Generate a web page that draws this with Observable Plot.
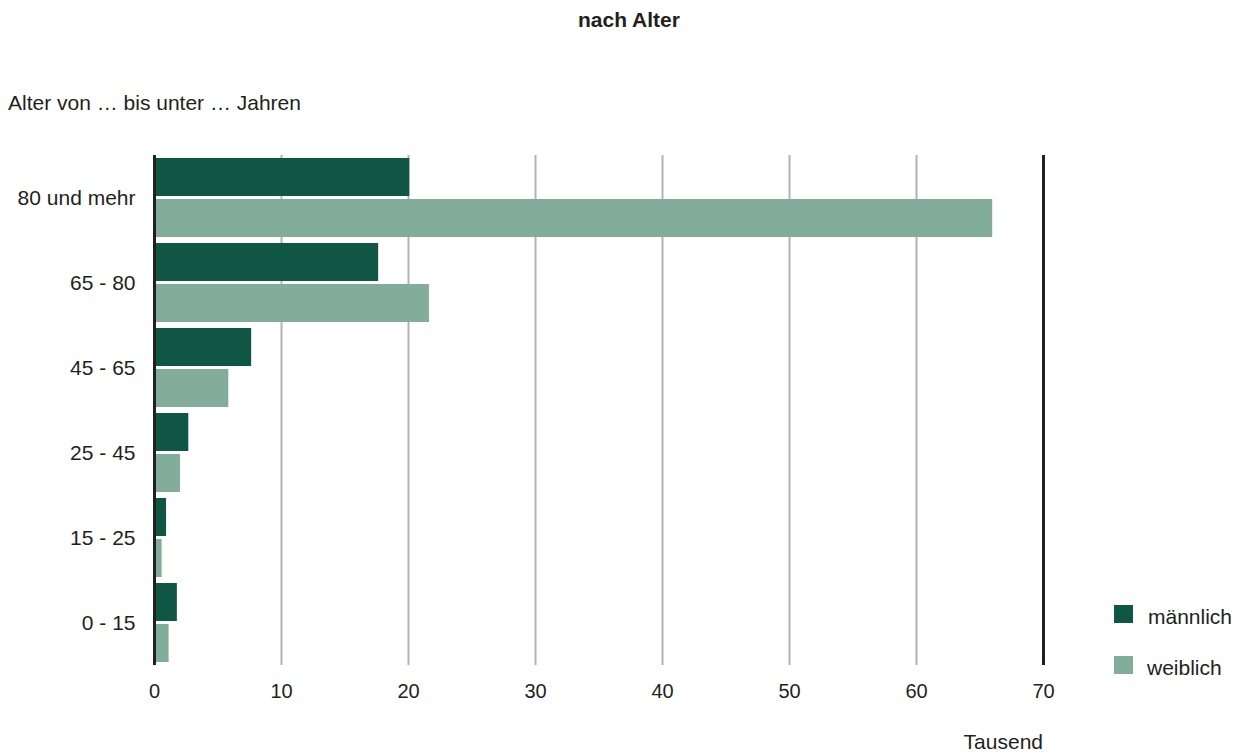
<!DOCTYPE html>
<html lang="de">
<head>
<meta charset="utf-8">
<script src="https://cdn.jsdelivr.net/npm/d3@7"></script>
<script src="https://cdn.jsdelivr.net/npm/@observablehq/plot@0.6"></script>
<style>
  html, body { margin: 0; padding: 0; background: #fff; }
  #wrap { position: relative; width: 1244px; height: 753px; font-family: "Liberation Sans", Arial, sans-serif; color: #231f20; }
  #wrap svg { position: absolute; left: 0; top: 0; }
  .t { position: absolute; white-space: nowrap; transform: translateY(-50%); line-height: 1; font-size: 21px; }
  .title { left: 0; width: 1258px; text-align: center; font-weight: bold; top: 19px; }
  .sw { position: absolute; width: 19px; height: 18px; }
</style>
</head>
<body>
<div id="wrap">
  <div class="t title">nach Alter</div>
  <div class="t" style="left:8px; top:102px;">Alter von … bis unter … Jahren</div>
  <div class="t" style="right:201px; top:741px;">Tausend</div>
  <div class="sw" id="sw0" style="left:1114px; top:605px;"></div>
  <div class="t" style="left:1148px; top:616px;" id="lg0"></div>
  <div class="sw" id="sw1" style="left:1114px; top:656px;"></div>
  <div class="t" style="left:1147px; top:667px;" id="lg1"></div>
</div>
<script>
// Altersgruppen (von oben nach unten) und Werte in Tausend
const ageGroups = ["80 und mehr", "65 - 80", "45 - 65", "25 - 45", "15 - 25", "0 - 15"];
const maleValues = [20.1, 17.65, 7.65, 2.7, 0.95, 1.8];
const femaleValues = [66.0, 21.65, 5.85, 2.05, 0.6, 1.15];
const sexes = ["männlich", "weiblich"];
const xTicks = [0, 10, 20, 30, 40, 50, 60, 70];
const colors = ["#0f5645", "#82ad9b"];

const rows = ageGroups.flatMap((age, i) => [
  {age, sex: sexes[0], value: maleValues[i]},
  {age, sex: sexes[1], value: femaleValues[i]}
]);

const chart = Plot.plot({
  width: 1244,
  height: 753,
  marginLeft: 154,
  marginRight: 201,
  marginTop: 155,
  marginBottom: 88,
  style: {fontFamily: "Liberation Sans, Arial, sans-serif", fontSize: "20px", color: "#231f20", background: "transparent"},
  x: {domain: [0, 70]},
  fy: {domain: ageGroups, padding: 0},
  y: {domain: sexes, paddingInner: 0.073, paddingOuter: 0.069, axis: null},
  color: {domain: sexes, range: colors},
  marks: [
    Plot.ruleX(xTicks.filter(t => t > 0 && t < 70), {stroke: "#b1b3b8", strokeWidth: 2}),
    Plot.barX(rows, {fy: "age", y: "sex", x: "value", fill: "sex"}),
    Plot.ruleX([0, 70], {stroke: "#231f20", strokeWidth: 3}),
    Plot.axisX({ticks: xTicks, tickSize: 0, tickPadding: 18, label: null, tickFormat: d => String(d)}),
    Plot.axisFy({anchor: "left", tickSize: 0, tickPadding: 19, label: null, fontSize: 21})
  ]
});
document.getElementById("wrap").appendChild(chart);

// Legende
sexes.forEach((s, i) => {
  document.getElementById("sw" + i).style.background = colors[i];
  document.getElementById("lg" + i).textContent = s;
});
</script>
</body>
</html>
